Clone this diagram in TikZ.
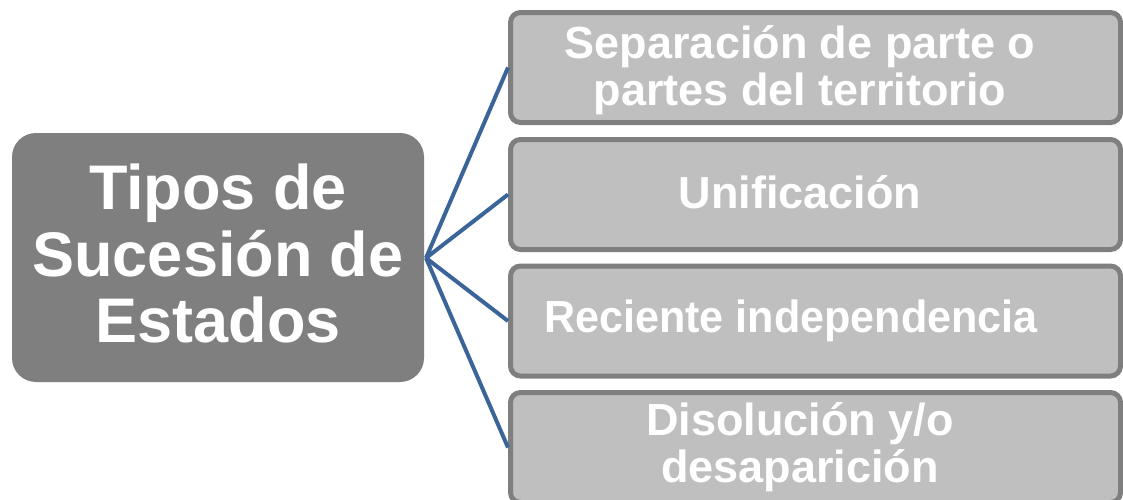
\documentclass[tikz,border=0pt]{standalone}
\usepackage{fontspec}
\setmainfont{Liberation Sans}
\definecolor{darkbox}{HTML}{7F7F7F}
\definecolor{lightbox}{HTML}{BFBFBF}
\definecolor{linkblue}{HTML}{3B6599}
\tikzset{
  mainbox/.style={fill=darkbox, rounded corners=24pt, minimum width=412pt, minimum height=249pt, inner sep=0pt,
    text=white, font=\bfseries\fontsize{63}{66.5}\selectfont, align=center},
  itembox/.style={fill=lightbox, draw=darkbox, line width=5pt, rounded corners=10pt,
    minimum width=610pt, minimum height=110pt, inner sep=0pt},
  itemtext/.style={text=white, font=\bfseries\fontsize{45}{47}\selectfont, align=center, inner sep=0pt},
  link/.style={draw=linkblue, line width=4pt}
}
\begin{document}
\begin{tikzpicture}[x=1pt,y=-1pt]
\useasboundingbox (0,0) rectangle (1123,499);
\clip (0,0) rectangle (1123,499);
\fill[white] (0,0) rectangle (1123,499);
\node[mainbox, text depth=8pt] (main) at (218,257.5) {Tipos de\\Sucesión de\\Estados};
\node[itembox] (b1) at (815.5,67.5) {};
\node[itembox] (b2) at (815.5,194.5) {};
\node[itembox] (b3) at (815.5,321) {};
\node[itembox] (b4) at (815.5,447.5) {};
\coordinate (hub) at (426,258);
\foreach \b in {b1,b2,b3,b4} \draw[link] (hub) -- (\b.west);
\node[itemtext] (t1) at (800,70) {Separación de parte o\\partes del territorio};
\node[itemtext] (t2) at (800,192.5) {Unificación};
\node[itemtext, xscale=0.958, transform shape] (t3) at (791,321) {Reciente independencia};
\node[itemtext] (t4) at (800,447) {Disolución y/o\\desaparición};
\end{tikzpicture}
\end{document}
